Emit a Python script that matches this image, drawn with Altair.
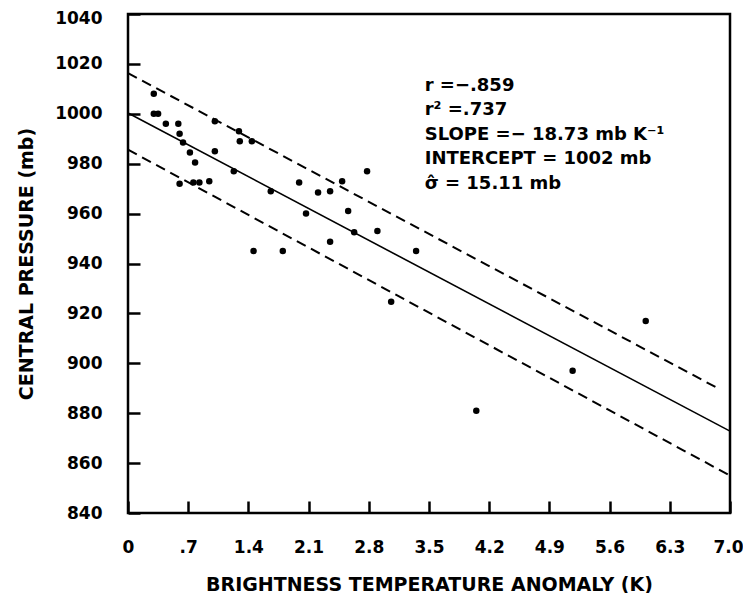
import altair as alt
import pandas as pd

# ---- data ----
bt_anomaly = [0.30, 0.30, 0.35, 0.44, 0.585, 0.60, 0.64, 0.72, 0.78, 0.60, 0.76, 0.83,
              0.945, 1.01, 1.01, 1.23, 1.29, 1.30, 1.44, 1.66, 1.99, 2.21, 2.07, 1.46,
              1.80, 2.78, 2.49, 2.35, 2.56, 2.63, 2.90, 2.35, 3.35, 3.06, 6.02, 5.17, 4.05]
central_pressure = [1008, 1000, 1000, 996, 996, 992, 988.5, 984.5, 980.5, 972, 972.5, 972.5,
                    973, 997, 985, 977, 993, 989, 989, 969, 972.5, 968.5, 960, 945,
                    945, 977, 973, 969, 961, 952.5, 953, 948.7, 945, 924.7, 917, 897, 881]

x_ticks = [0, 0.7, 1.4, 2.1, 2.8, 3.5, 4.2, 4.9, 5.6, 6.3, 7.0]
x_tick_labels = ["0", ".7", "1.4", "2.1", "2.8", "3.5", "4.2", "4.9", "5.6", "6.3", "7.0"]
y_ticks = [840, 860, 880, 900, 920, 940, 960, 980, 1000, 1020, 1040]

fit_x = [0.0, 7.0]
fit_y = [1000.3, 872.8]
upper_x = [0.0, 6.88]
upper_y = [1016.3, 889.6]
lower_x = [0.0, 7.0]
lower_y = [985.6, 855.0]

stats_lines = ["r =−.859", "r² =.737", "SLOPE =− 18.73 mb K⁻¹",
               "INTERCEPT = 1002 mb", "σ̂ = 15.11 mb"]
stats_x = 3.45
stats_y = 1014.8

FONT = "DejaVu Sans"

points = pd.DataFrame({"bt": bt_anomaly, "cp": central_pressure})
fit = pd.DataFrame({"bt": fit_x, "cp": fit_y})
upper = pd.DataFrame({"bt": upper_x, "cp": upper_y})
lower = pd.DataFrame({"bt": lower_x, "cp": lower_y})

label_expr = "[" + ",".join(f"'{l}'" for l in x_tick_labels) + "][round(datum.value/0.7)]"

xscale = alt.Scale(domain=[0, 7], nice=False, zero=False)
yscale = alt.Scale(domain=[840, 1040], nice=False, zero=False)

x_axis = alt.Axis(values=x_ticks, labelExpr=label_expr, title="BRIGHTNESS TEMPERATURE ANOMALY (K)",
                  grid=False, domain=False, offset=-12, tickSize=12, tickWidth=2.5, tickColor="black",
                  labelPadding=26, labelFontSize=17, labelFontWeight="bold", labelColor="black",
                  labelFont=FONT,
                  labelOffset={"condition": {"test": "datum.value == 7", "value": -2}, "value": 0},
                  titleFontSize=19, titleFont=FONT, titleFontWeight="bold", titleColor="black",
                  titlePadding=20, labelFlush=False)
y_axis = alt.Axis(values=y_ticks, format="d", title="CENTRAL PRESSURE (mb)",
                  grid=False, domain=False, offset=-12, tickSize=12, tickWidth=2.5, tickColor="black",
                  labelPadding=26, labelFontSize=17, labelFontWeight="bold", labelColor="black",
                  labelFont=FONT,
                  labelOffset={"condition": {"test": "datum.value == 1040", "value": 4}, "value": 0},
                  titleFontSize=19, titleFont=FONT, titleFontWeight="bold", titleColor="black",
                  titlePadding=18, labelFlush=False)

X = alt.X("bt:Q", scale=xscale, axis=x_axis)
Y = alt.Y("cp:Q", scale=yscale, axis=y_axis)

pts = alt.Chart(points).mark_circle(size=42, color="black", opacity=1).encode(x=X, y=Y)
fit_line = alt.Chart(fit).mark_line(color="black", strokeWidth=1.6).encode(x=X, y=Y)
up_line = alt.Chart(upper).mark_line(color="black", strokeWidth=2, strokeDash=[10, 6]).encode(x=X, y=Y)
lo_line = alt.Chart(lower).mark_line(color="black", strokeWidth=2, strokeDash=[10, 6]).encode(x=X, y=Y)

stats = alt.Chart(pd.DataFrame({"bt": [stats_x], "cp": [stats_y]})).mark_text(
    align="left", baseline="top", fontSize=18, fontWeight="bold", lineHeight=24.5, font=FONT,
    color="black", text=stats_lines,
).encode(x=X, y=Y)

chart = alt.layer(pts, fit_line, up_line, lo_line, stats).properties(
    width=602, height=499,
    autosize=alt.AutoSizeParams(type="none"),
    padding={"left": 120, "top": 6, "right": 13, "bottom": 80},
    background="white",
).configure_view(stroke="black", strokeWidth=2.5)

chart.save("out.html", embed_options={"renderer": "svg", "actions": False})
